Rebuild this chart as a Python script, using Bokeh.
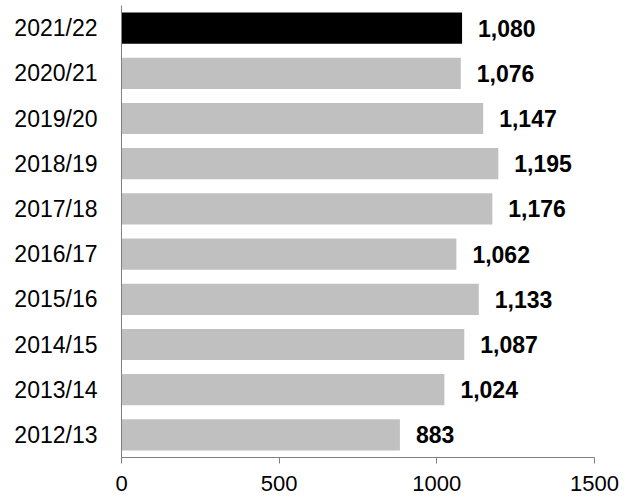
from bokeh.plotting import figure
from bokeh.models import ColumnDataSource, Range1d, FactorRange, FixedTicker, LabelSet
from bokeh.core.properties import value
from bokeh.embed import file_html
from bokeh.resources import INLINE

# Seasons, listed bottom to top
seasons = ["2012/13", "2013/14", "2014/15", "2015/16", "2016/17",
           "2017/18", "2018/19", "2019/20", "2020/21", "2021/22"]
counts = [883, 1024, 1087, 1133, 1062, 1176, 1195, 1147, 1076, 1080]
x_ticks = [0, 500, 1000, 1500]

colors = ["#C0C0C0"] * (len(seasons) - 1) + ["#000000"]
labels = [f"{v:,}" for v in counts]

src = ColumnDataSource(dict(season=seasons, count=counts, color=colors, label=labels))

FONT = "Liberation Sans"

p = figure(width=633, height=498, y_range=FactorRange(factors=seasons),
           x_range=Range1d(0, 1500), output_backend="svg", toolbar_location=None,
           min_border_left=121, min_border_right=39, min_border_top=5, min_border_bottom=41)

p.hbar(y="season", right="count", left=0, height=0.69, color="color", line_color=None, source=src)

p.add_layout(LabelSet(x="count", y="season", text="label", source=src, x_offset=16,
                      text_baseline="middle", text_align="left", text_font=value(FONT),
                      text_font_size="23px", text_font_style="bold", text_color="#000000"))

p.xgrid.visible = False
p.ygrid.visible = False
p.outline_line_color = None
p.background_fill_color = "white"
p.border_fill_color = "white"

p.xaxis.ticker = FixedTicker(ticks=x_ticks)
p.xaxis.axis_line_color = "#808080"
p.xaxis.major_tick_line_color = "#808080"
p.xaxis.major_tick_out = 6
p.xaxis.major_tick_in = 0
p.xaxis.minor_tick_line_color = None
p.xaxis.major_label_standoff = 12
p.xaxis.major_label_text_font = FONT
p.xaxis.major_label_text_font_size = "22px"
p.xaxis.major_label_text_color = "#000000"

p.yaxis.axis_line_color = "#808080"
p.yaxis.major_tick_line_color = None
p.yaxis.minor_tick_line_color = None
p.yaxis.major_label_standoff = 18
p.yaxis.major_label_text_font = FONT
p.yaxis.major_label_text_font_size = "23px"
p.yaxis.major_label_text_color = "#000000"

open("out.html", "w").write(file_html(p, INLINE))
